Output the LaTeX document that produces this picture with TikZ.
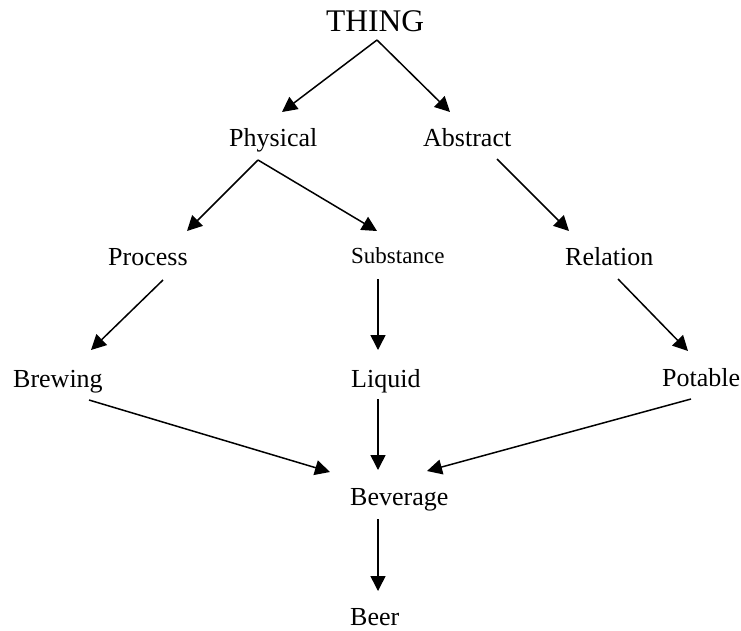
\documentclass[tikz,border=0pt]{standalone}
\usepackage{fontspec}
\setmainfont{Liberation Serif}
\usetikzlibrary{arrows.meta}
\begin{document}
\begin{tikzpicture}[x=1pt,y=-1pt,
  lbl/.style={anchor=base west,inner sep=0pt,font=\fontsize{26}{30}\selectfont},
  big/.style={anchor=base west,inner sep=0pt,font=\fontsize{31.5}{36}\selectfont},
  small/.style={anchor=base west,inner sep=0pt,font=\fontsize{23}{27}\selectfont},
  link/.style={line width=1.5pt,-{Triangle[length=15pt,width=15pt]}}]
\useasboundingbox (0,0) rectangle (741,630);
% nodes
\node[big]   (thing)     at (326,31)  {THING};
\node[lbl]   (physical)  at (229,146) {Physical};
\node[lbl]   (abstract)  at (423,146) {Abstract};
\node[lbl]   (process)   at (108,265) {Process};
\node[small] (substance) at (351,263) {Substance};
\node[lbl]   (relation)  at (565,265) {Relation};
\node[lbl]   (brewing)   at (13,387)  {Brewing};
\node[lbl]   (liquid)    at (351,387) {Liquid};
\node[lbl]   (potable)   at (662,386) {Potable};
\node[lbl]   (beverage)  at (350,505) {Beverage};
\node[lbl]   (beer)      at (350,625) {Beer};
% connector ends
\coordinate (thing-out) at (377,40);
\coordinate (physical-in) at (282,112);
\coordinate (abstract-in) at (450,112);
\coordinate (physical-out) at (258,160);
\coordinate (abstract-out) at (497,159);
\coordinate (process-in) at (187,231);
\coordinate (substance-in) at (377,231);
\coordinate (relation-in) at (569,231);
\coordinate (process-out) at (163,280);
\coordinate (substance-out) at (378,279);
\coordinate (relation-out) at (618,279);
\coordinate (brewing-in) at (91,350);
\coordinate (liquid-in) at (378,350);
\coordinate (potable-in) at (688,351);
\coordinate (brewing-out) at (89,400);
\coordinate (liquid-out) at (378,399);
\coordinate (potable-out) at (691,399);
\coordinate (beverage-inl) at (330,472);
\coordinate (beverage-inm) at (378,470);
\coordinate (beverage-inr) at (427,471);
\coordinate (beverage-out) at (378,519);
\coordinate (beer-in) at (378,591);
% connectors
\draw[link] (thing-out) -- (physical-in);
\draw[link] (thing-out) -- (abstract-in);
\draw[link] (physical-out) -- (process-in);
\draw[link] (physical-out) -- (substance-in);
\draw[link] (abstract-out) -- (relation-in);
\draw[link] (process-out) -- (brewing-in);
\draw[link] (substance-out) -- (liquid-in);
\draw[link] (relation-out) -- (potable-in);
\draw[link] (brewing-out) -- (beverage-inl);
\draw[link] (liquid-out) -- (beverage-inm);
\draw[link] (potable-out) -- (beverage-inr);
\draw[link] (beverage-out) -- (beer-in);
\end{tikzpicture}
\end{document}
